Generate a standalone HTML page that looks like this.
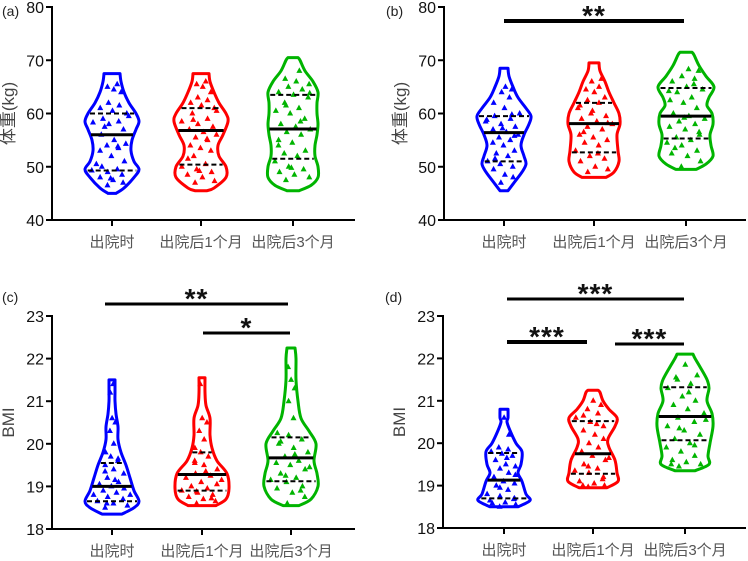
<!DOCTYPE html>
<html><head><meta charset="utf-8">
<style>
html,body{margin:0;padding:0;background:#fff;}
svg{display:block;font-family:"Liberation Sans","Noto Sans CJK SC",sans-serif;}
.cat{font-family:"Liberation Sans","Noto Sans CJK SC",sans-serif;fill:#555;font-size:15px;}
</style></head>
<body>
<svg id="chart" width="748" height="561" viewBox="0 0 748 561"></svg>
<script>
const categories = ["出院时","出院后1个月","出院后3个月"];
const colors = ["#0000ff","#ff0000","#00b400"];
// Density profiles: [value, half-width]
const profA = [
 [[45,4],[46,12],[48,22],[49.5,27],[51,22],[53,19],[55,20],[57,24],[58.5,27],[60,24],[62,17],[64,12],[66,9],[67.5,8]],
 [[45.5,6],[46,13],[48,25],[50,25],[52,18],[54,17],[56,22],[58.5,27],[60,25],[62,18],[64,13],[66,9],[67.5,8]],
 [[45.5,6],[46.5,18],[48,25],[50,25],[52,22],[54,22],[56,24],[58,25],[60,24],[62,24],[64,25],[66,20],[68,12],[70,7],[70.5,5]]];
const profB = [
 [[45.5,4],[47,10],[49,18],[50.5,22],[52,20],[54,17],[56,20],[58,25],[59.5,27],[61,22],[63,14],[65,9],[67,5],[68.5,4]],
 [[48,12],[49,20],[51,25],[53,24],[56,23],[58,26],[60,25],[62,20],[64,15],[66,11],[68,6],[69.5,5]],
 [[49.5,10],[50.5,20],[52,27],[54,25],[56,24],[58,27],[60,26],[61.5,21],[63,23],[65,28],[67,20],[69,13],[71,8],[71.5,6]]];
const profC = [
 [[18.35,10],[18.5,22],[18.65,27],[18.9,22],[19.2,18],[19.5,14],[19.8,9],[20.1,6],[20.4,6],[20.7,4],[21.0,3],[21.2,3],[21.5,3]],
 [[18.55,14],[18.7,24],[18.95,27],[19.3,25],[19.6,15],[19.9,10],[20.2,8],[20.6,8],[20.9,4],[21.2,3],[21.55,3]],
 [[18.55,8],[18.7,20],[19.0,27],[19.3,26],[19.6,23],[20.0,25],[20.3,18],[20.6,10],[21.0,7],[21.5,5],[22.0,5],[22.25,4]]];
const profD = [
 [[18.5,14],[18.65,26],[18.8,22],[19.1,18],[19.3,14],[19.5,17],[19.8,18],[20.0,12],[20.3,6],[20.5,3],[20.6,4],[20.8,4]],
 [[18.95,14],[19.1,25],[19.3,24],[19.6,22],[19.9,16],[20.1,15],[20.4,22],[20.6,24],[20.8,16],[21.0,10],[21.2,7],[21.25,5]],
 [[19.35,10],[19.5,24],[19.7,23],[20.0,25],[20.4,28],[20.7,27],[21.0,22],[21.3,24],[21.5,22],[21.8,15],[22.0,10],[22.1,8]]];
// Quartiles [q1, median, q3]
const quartA = [[49.3,56,60],[50.4,56.8,61],[51.5,57.1,63.5]];
const quartB = [[51,56.4,59.5],[52.7,58.1,62],[55.3,59.5,64.8]];
const quartC = [[18.65,19.0,19.55],[18.9,19.28,19.8],[19.12,19.67,20.15]];
const quartD = [[18.7,19.13,19.77],[19.28,19.75,20.52],[20.07,20.63,21.32]];
// Data points
const ptsA = [
 [46.5,47,47.5,48,48.5,49,49.3,49.5,50,51,52,53,53.5,54,54.3,55,56,57,58,58.3,58.5,59,60,60.5,61,61.5,62,64,64.5,65,65.5,47.8,50.5,53.8,57.5,59.5],
 [47,47.3,48,48.5,49,49.5,50,50.5,52,53,53.5,54,55,55.5,56,56.5,57,57.5,58,58.5,59,60,61,61.5,62,62.5,63,64,65,65.5,66,49.2,51.5,55.2,58.8,60.5],
 [47.5,48,48.5,49,49.5,50,51,52,52.5,53,54.5,55,56,56.5,57,57.5,58,59,60,60.5,61,62,63,63.5,64,64.5,65,65.5,66,66.5,68,49.8,54,58.5,61.5,63.8]];
const ptsB = [
 [47,48,48.5,49.5,50,50.5,51,52,52.5,53,54,54.5,55,55.5,56,56.5,57,57.5,58,58.5,59,59.5,60,61,62,63,64,64.5,65,51.5,55.8,57.2,58.8,59.8],
 [49,49.5,50,51,51.5,52,53,54,54.5,55,55.5,56,57,57.5,58,58.5,59,59.5,60,61,62,62.5,63,64,64.5,65,66,66.5,52.5,56.5,58.2,60.5,61.5],
 [50,51,52,52.5,53,54,54.5,55,55.5,56,57,57.5,58,58.5,59,59.5,60,61,62,62.5,63,64,64.5,65,66,66.5,67,68,68.3,53.5,56.5,59.2,64.2,65.5]];
const ptsC = [
 [18.5,18.55,18.6,18.65,18.7,18.75,18.8,18.85,18.9,18.95,19.0,19.05,19.1,19.2,19.3,19.4,19.5,19.6,19.7,19.8,20.0,20.3,20.5,20.6,21.2,21.4,18.6,18.8,19.15,19.35,19.65],
 [18.6,18.65,18.7,18.75,18.8,18.85,18.9,18.95,19.0,19.05,19.1,19.2,19.25,19.3,19.4,19.5,19.6,19.7,19.8,19.9,20.1,20.3,20.5,20.6,21.4,18.72,18.88,19.15,19.35,19.55],
 [18.6,18.75,18.85,18.95,19.0,19.1,19.15,19.2,19.3,19.4,19.5,19.55,19.6,19.7,19.8,19.9,20.0,20.1,20.2,20.25,20.6,21.0,21.3,21.5,21.8,18.9,19.25,19.45,19.75,20.05]];
const ptsD = [
 [18.5,18.55,18.6,18.65,18.7,18.75,18.8,18.9,19.0,19.05,19.1,19.2,19.3,19.4,19.45,19.5,19.6,19.7,19.75,19.8,19.85,19.9,20.2,20.6,18.58,18.68,18.95,19.25,19.65],
 [18.97,19.0,19.05,19.1,19.2,19.3,19.35,19.4,19.5,19.6,19.7,19.8,19.9,20.0,20.1,20.2,20.3,20.4,20.5,20.6,20.7,20.8,20.9,21.0,19.0,19.15,19.45,19.65,20.45,20.65],
 [19.45,19.5,19.55,19.6,19.7,19.8,19.9,20.0,20.1,20.2,20.3,20.4,20.5,20.6,20.7,20.8,20.9,21.0,21.1,21.3,21.4,21.5,21.6,21.85,19.5,19.95,20.35,20.55,21.2,21.55]];
const ticksW = [40,50,60,70,80];
const ticksBMI = [18,19,20,21,22,23];

const NS = "http://www.w3.org/2000/svg";
const svg = document.getElementById("chart");
function mk(tag, attrs, parent){const e=document.createElementNS(NS,tag);for(const k in attrs)e.setAttribute(k,attrs[k]);(parent||svg).appendChild(e);return e;}

const panels = [
 {id:"a",ax:52,xend:355,ytop:7,ybot:220,min:40,max:80,cats:[112,201,293],prof:profA,q:quartA,pts:ptsA,ticks:ticksW,ylab:"体重(kg)",lab:[2,16],
  sig:[]},
 {id:"b",ax:444,xend:746,ytop:7,ybot:220,min:40,max:80,cats:[504,594,686],prof:profB,q:quartB,pts:ptsB,ticks:ticksW,ylab:"体重(kg)",lab:[386,16],
  sig:[{x1:504,x2:684,y:21,t:"**",w:4}]},
 {id:"c",ax:52,xend:355,ytop:316,ybot:529,min:18,max:23,cats:[112,202,291],prof:profC,q:quartC,pts:ptsC,ticks:ticksBMI,ylab:"BMI",lab:[2,302],
  sig:[{x1:105,x2:288,y:304,t:"**",w:3},{x1:203,x2:290,y:333,t:"*",w:3}]},
 {id:"d",ax:443,xend:746,ytop:316,ybot:528,min:18,max:23,cats:[504,593,685],prof:profD,q:quartD,pts:ptsD,ticks:ticksBMI,ylab:"BMI",lab:[385,302],
  sig:[{x1:507,x2:684,y:299,t:"***",w:3},{x1:507,x2:587,y:342,t:"***",w:4},{x1:615,x2:684,y:344,t:"***",w:3}]}
];

function hwAt(prof,v){
 if(v<=prof[0][0])return prof[0][1];
 for(let i=1;i<prof.length;i++){if(v<=prof[i][0]){const a=prof[i-1],b=prof[i];return a[1]+(b[1]-a[1])*(v-a[0])/(b[0]-a[0]);}}
 return prof[prof.length-1][1];
}
function smooth(pts){
 let d="M"+pts[0][0]+","+pts[0][1];
 for(let i=0;i<pts.length-1;i++){
  const p0=pts[Math.max(0,i-1)],p1=pts[i],p2=pts[i+1],p3=pts[Math.min(pts.length-1,i+2)];
  const c1=[p1[0]+(p2[0]-p0[0])/6,p1[1]+(p2[1]-p0[1])/6];
  const c2=[p2[0]-(p3[0]-p1[0])/6,p2[1]-(p3[1]-p1[1])/6];
  d+="C"+c1[0]+","+c1[1]+" "+c2[0]+","+c2[1]+" "+p2[0]+","+p2[1];
 }
 return d;
}

panels.forEach(p=>{
 const g=mk("g",{});
 
 
 const y=v=>p.ybot-(v-p.min)/(p.max-p.min)*(p.ybot-p.ytop);
 const pl=mk("text",{x:p.lab[0],y:p.lab[1],"font-size":14,fill:"#222"},g);pl.textContent="("+p.id+")";
 
 
 const yt=mk("text",{x:0,y:0,"font-size":17,fill:"#444","text-anchor":"middle",transform:`translate(${p.ax-38},${(p.ytop+p.ybot)/2}) rotate(-90)`},g);yt.textContent=p.ylab;
 
 
 const yaxis=mk("line",{x1:p.ax,y1:p.ytop-1,x2:p.ax,y2:p.ybot+1,stroke:"#000","stroke-width":2},g);
 
 
 const xaxis=mk("line",{x1:p.ax-1,y1:p.ybot,x2:p.xend,y2:p.ybot,stroke:"#000","stroke-width":2},g);
 
 
 p.ticks.forEach(t=>{
  mk("line",{x1:p.ax-6,y1:y(t),x2:p.ax,y2:y(t),stroke:"#000","stroke-width":2},g);
  const tl=mk("text",{x:p.ax-8,y:y(t)+6,"font-size":16,"text-anchor":"end",fill:"#111"},g);tl.textContent=t;
  
  
 });
 p.cats.forEach((cx,i)=>{
  mk("line",{x1:cx,y1:p.ybot,x2:cx,y2:p.ybot+6,stroke:"#000","stroke-width":2},g);
  const cl=mk("text",{x:cx,y:p.ybot+27,"text-anchor":"middle",class:"cat"},g);cl.textContent=categories[i];
  
  
  const prof=p.prof[i];
  const right=prof.map(pt=>[cx+pt[1],y(pt[0])]);
  const left=prof.slice().reverse().map(pt=>[cx-pt[1],y(pt[0])]);
  const d=smooth(right)+"L"+left[0][0]+","+left[0][1]+smooth(left).replace(/^M[^C]*/,"")+"Z";
  const vp=mk("path",{d:d,fill:"none",stroke:colors[i],"stroke-width":3,"stroke-linejoin":"round"},g);
  
  
  p.pts[i].forEach((v,k)=>{
   const f=((k*0.618+0.3)%1)*2-1;
   const px=cx+f*0.78*hwAt(prof,v), py=y(v);
   const tri=mk("path",{d:`M${px},${py-3.5}L${px+3},${py+2}L${px-3},${py+2}Z`,fill:colors[i]},g);
   
   
  });
  const q=p.q[i];
  [0,2].forEach(k=>{const h=hwAt(prof,q[k]);
   const ql=mk("line",{x1:cx-h+2,y1:y(q[k]),x2:cx+h-2,y2:y(q[k]),stroke:"#000","stroke-width":2,"stroke-dasharray":"5,3"},g);
   
   });
  const hm=hwAt(prof,q[1]);
  const ml=mk("line",{x1:cx-hm+1,y1:y(q[1]),x2:cx+hm-1,y2:y(q[1]),stroke:"#000","stroke-width":3},g);
  
  
 });
 p.sig.forEach(s=>{
  const sl=mk("line",{x1:s.x1,y1:s.y,x2:s.x2,y2:s.y,stroke:"#000","stroke-width":s.w},g);
  
  
  const st=mk("text",{x:(s.x1+s.x2)/2,y:s.y+4,"font-size":28,"font-weight":"bold","text-anchor":"middle",fill:"#111","letter-spacing":"1"},g);st.textContent=s.t;
  
  
 });
});
</script>
</body></html>
